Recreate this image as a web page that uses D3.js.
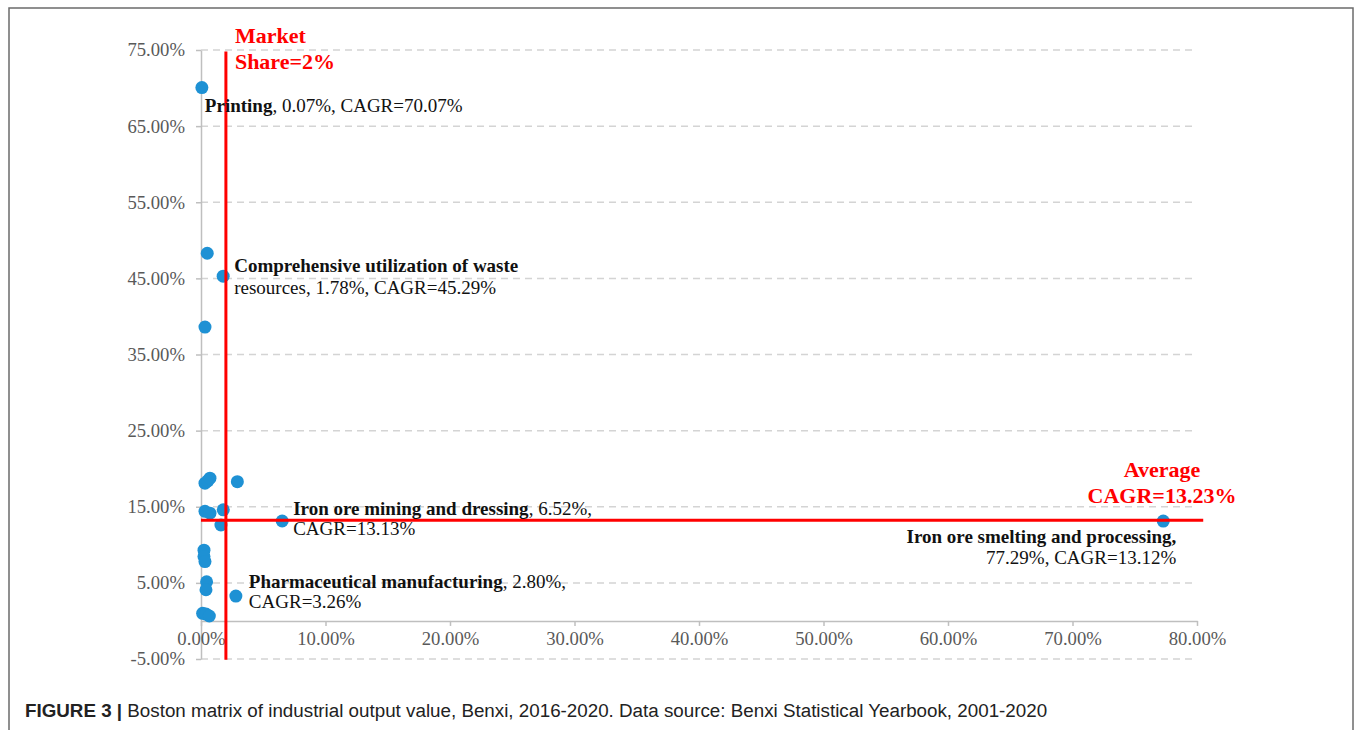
<!DOCTYPE html>
<html>
<head>
<meta charset="utf-8">
<script src="https://cdn.jsdelivr.net/npm/d3@7"></script>
<style>
    body{margin:0;background:#fff;}
    svg text{font-family:"Liberation Serif","Times New Roman",serif;}
    .caption{font-family:"Liberation Sans",Arial,sans-serif;}
</style>
</head>
<body>
<div id="chart"></div>
<script>
// market share (%) and CAGR (%) of each industry
var share = [0.07, 0.5, 1.78, 0.32, 0.32, 0.55, 0.72, 2.92, 0.32, 0.72, 1.79, 1.6, 6.52,
             0.24, 0.24, 0.32, 0.45, 0.4, 2.80, 0.13, 0.4, 0.67, 77.29];
var cagr  = [70.07, 48.3, 45.29, 38.6, 18.1, 18.4, 18.75, 18.3, 14.4, 14.15, 14.6, 12.6, 13.13,
             9.3, 8.45, 7.8, 5.15, 4.1, 3.26, 1.0, 0.9, 0.65, 13.12];
var xTicks = [0, 10, 20, 30, 40, 50, 60, 70, 80];
var yTicks = [-5, 5, 15, 25, 35, 45, 55, 65, 75];
var shareLine = 2;        // market share threshold
var avgCagr = 13.23;      // average CAGR
// labelled points: index into the arrays above
var labelIdx   = [0, 2, 12, 18, 22];
var labelBold  = ["Printing", "Comprehensive utilization of waste", "Iron ore mining and dressing", "Pharmaceutical manufacturing", "Iron ore smelting and processing,"];
var labelRest1 = [", 0.07%, CAGR=70.07%", "", ", 6.52%,", ", 2.80%,", ""];
var labelRest2 = ["", "resources, 1.78%, CAGR=45.29%", "CAGR=13.13%", "CAGR=3.26%", "77.29%, CAGR=13.12%"];

var width = 1355, height = 730;
var svg = d3.select("#chart").append("svg").attr("width", width).attr("height", height);

// outer frame of the figure
svg.append("rect").attr("x", 9).attr("y", 8).attr("width", 1344).attr("height", 740)
    .attr("fill", "none").attr("stroke", "#6b6b6b").attr("stroke-width", 1.5);

var x = d3.scaleLinear().domain([0, 80]).range([201, 1197]);
var y = d3.scaleLinear().domain([-5, 75]).range([659, 50]);

// dashed gridlines
svg.append("g").selectAll("line").data(yTicks).enter().append("line")
    .attr("x1", x(0)).attr("x2", x(80))
    .attr("y1", function(d){return y(d);}).attr("y2", function(d){return y(d);})
    .attr("stroke", "#d4d4d4").attr("stroke-width", 1.5).attr("stroke-dasharray", "7,5");

var fmt = function(d){return d.toFixed(2) + "%";};

// y axis on x=0
var yAxis = svg.append("g").attr("transform", "translate(" + x(0) + ",0)")
    .call(d3.axisLeft(y).tickValues(yTicks).tickFormat(fmt).tickSize(5).tickSizeOuter(0));
// x axis on y=0
var xAxis = svg.append("g").attr("transform", "translate(0," + y(0) + ")")
    .call(d3.axisBottom(x).tickValues(xTicks).tickFormat(fmt).tickSize(5).tickSizeOuter(0));

[yAxis, xAxis].forEach(function(a){
    a.select(".domain").attr("stroke", "#bfbfbf").attr("stroke-width", 1.5);
    a.selectAll(".tick line").attr("stroke", "#bfbfbf").attr("stroke-width", 1.5);
    a.selectAll(".tick text").attr("fill", "#595959").style("font-size", "18.7px")
        .style("font-family", "'Liberation Serif','Times New Roman',serif");
});
yAxis.selectAll(".tick text").attr("x", -16);
xAxis.selectAll(".tick text").attr("y", 11);

// points
svg.append("g").selectAll("circle").data(share).enter().append("circle")
    .attr("cx", function(d){return x(d);})
    .attr("cy", function(d, i){return y(cagr[i]);})
    .attr("r", 6.5).attr("fill", "#1e91d4");

// threshold lines
svg.append("line").attr("x1", x(shareLine)).attr("x2", x(shareLine))
    .attr("y1", y(74.8)).attr("y2", y(-5.1))
    .attr("stroke", "#ff0000").attr("stroke-width", 3);
svg.append("line").attr("x1", x(0)).attr("x2", x(80.5))
    .attr("y1", y(avgCagr)).attr("y2", y(avgCagr))
    .attr("stroke", "#ff0000").attr("stroke-width", 3);

var red = svg.append("g").attr("fill", "#ff0000").style("font-weight", "bold").style("font-size", "22px");
red.append("text").attr("x", x(shareLine) + 9).attr("y", y(75) - 7).text("Market");
red.append("text").attr("x", x(shareLine) + 9).attr("y", y(75) + 19).text("Share=2%");
red.append("text").attr("x", x(80) - 35).attr("y", y(avgCagr) - 43).attr("text-anchor", "middle").text("Average");
red.append("text").attr("x", x(80) - 35).attr("y", y(avgCagr) - 17).attr("text-anchor", "middle").text("CAGR=13.23%");

// point labels, offsets from their point
var offX  = [3, 11, 11, 13, 13];
var offY1 = [24, -4, -6, -8, 22];
var offY2 = [0, 18, 14, 12, 43];
var anchor = ["start", "start", "start", "start", "end"];
var lab = svg.append("g").attr("fill", "#111").style("font-size", "19px");
labelIdx.forEach(function(k, i){
    var px = x(share[k]) + offX[i], py = y(cagr[k]);
    var t1 = lab.append("text").attr("x", px).attr("y", py + offY1[i]).attr("text-anchor", anchor[i]);
    t1.append("tspan").style("font-weight", "bold").text(labelBold[i]);
    if(labelRest1[i]) t1.append("tspan").text(labelRest1[i]);
    if(labelRest2[i]) lab.append("text").attr("x", px).attr("y", py + offY2[i])
        .attr("text-anchor", anchor[i]).text(labelRest2[i]);
});

// caption
var cap = svg.append("text").attr("class", "caption").attr("x", 25).attr("y", 717)
    .style("font-size", "18.8px").attr("fill", "#222");
cap.append("tspan").style("font-weight", "bold").text("FIGURE 3 | ");
cap.append("tspan").text("Boston matrix of industrial output value, Benxi, 2016-2020. Data source: Benxi Statistical Yearbook, 2001-2020");
</script>
</body>
</html>
